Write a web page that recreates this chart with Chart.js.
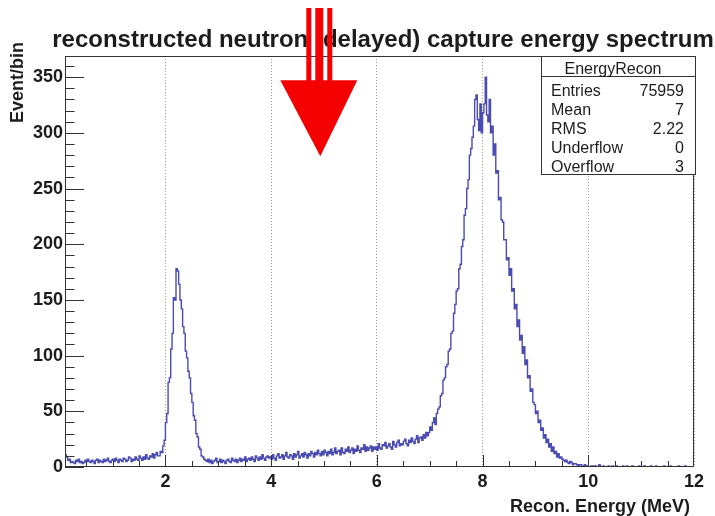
<!DOCTYPE html>
<html>
<head>
<meta charset="utf-8">
<script src="https://cdn.jsdelivr.net/npm/chart.js@4.4.1/dist/chart.umd.min.js"></script>
<style>
  html, body { margin: 0; background: #fff; }
  #wrap { width: 715px; height: 516px; }
</style>
</head>
<body>
<div id="wrap"><canvas id="spec"></canvas></div>
<script>
// histogram binning (MeV) and counts per bin
var binStart = 0.1, binWidth = 0.025;
var counts = [
  16, 11, 9, 6, 7, 4,
  5, 4, 3, 6, 5, 7, 4, 5, 3, 4, 6, 5, 7, 5, 4, 6, 5, 3, 6, 7, 4, 6, 5, 4, 7, 5, 6, 8, 5, 4, 6, 7, 5, 8, 6, 4, 7, 6, 5, 8,
  7, 5, 6, 9, 8, 5, 7, 6, 9, 7, 6, 10, 8, 6, 9, 7, 11, 8, 7, 10, 9, 12, 8, 11, 13, 10,
  10, 14, 13, 19,
  24, 40, 48, 76, 80, 106, 120, 152, 150, 178, 176, 164, 150, 142, 126, 120, 104, 98, 86, 80,
  66, 58, 46, 42, 30, 27, 18, 16, 10, 9, 7, 6,
  5, 7, 4, 6, 3, 5, 6, 8, 4, 5, 7, 4, 6, 5, 3, 6, 7, 5, 4, 8, 6, 5, 7, 4, 6, 8, 5, 7, 6, 9, 5, 7,
  8, 6, 9, 7, 5, 10, 8, 6, 9, 7, 11, 8, 6, 9, 10, 8,
  9, 7, 11, 8, 6, 10, 12, 8, 9, 11, 7, 10, 13, 9, 8, 11, 10, 7, 12, 9,
  11, 14, 8, 10, 12, 9, 13, 11, 8, 12, 10, 14, 12, 9, 13, 11, 15, 12, 10, 14,
  11, 15, 13, 10, 14, 12, 16, 11, 13, 17, 12, 14, 15, 11, 17, 13, 12, 16, 14, 18,
  13, 15, 17, 12, 16, 14, 19, 15, 13, 17, 16, 20, 14, 18, 15, 17, 19, 14, 18, 16,
  18, 15, 21, 17, 16, 20, 19, 22, 17, 19, 21, 18, 16, 23, 20, 18, 22, 24, 19, 21,
  20, 23, 25, 21, 19, 24, 22, 26, 23, 21, 25, 28, 22, 26, 27, 24, 29, 26, 31, 28,
  31, 36, 33, 40, 44, 38, 48, 52, 54, 64, 66, 78, 80, 90, 92, 104, 106, 120, 122, 138,
  146, 158, 160, 178, 182, 198, 204, 226, 232, 250, 258, 280, 286, 296, 306, 330, 334, 312, 302, 326,
  300, 318, 326, 350, 316, 310, 330, 300, 306, 280, 290, 264, 266, 240, 242, 222, 220, 204, 204, 186,
  188, 172, 178, 158, 160, 142, 146, 126, 132, 114, 118, 102, 108, 92, 96, 80, 82, 68, 70, 58,
  56, 48, 50, 40, 42, 33, 35, 26, 29, 22, 25, 18, 21, 14, 18, 12, 14, 9, 12, 8,
  9, 7, 6, 5, 6, 4, 3, 5, 4, 2, 3, 3, 2, 1, 2, 2, 1, 1, 2, 0,
  1, 0, 0, 1, 0, 1, 1, 0, 0, 2, 0, 0, 1, 0, 0, 0, 1, 0, 0, 1,
  0, 0, 1, 0, 0, 0, 0, 1, 0, 0, 1, 0, 0, 0, 1, 0, 0, 0, 0, 1,
  0, 0, 0, 1, 0, 0, 0, 0, 1, 0, 0, 0, 1, 0, 0, 0, 0, 0, 1, 0,
  0, 0, 0, 1, 0, 0, 0, 0, 0, 1, 0, 0, 0, 0, 1, 0, 0, 0, 0, 0
];
var xTickLabels = [2, 4, 6, 8, 10, 12];
var yTickLabels = [0, 50, 100, 150, 200, 250, 300, 350];
var statNames  = ['Entries', 'Mean', 'RMS', 'Underflow', 'Overflow'];
var statValues = ['75959', '7', '2.22', '0', '3'];
var histName = 'EnergyRecon';
var titleText = 'reconstructed neutron (delayed) capture energy spectrum';
var xTitle = 'Recon. Energy (MeV)', yTitle = 'Event/bin';
var arrowAt = { x: 4.93, y: 279 };   // where the red arrow points, in data units

var FONT = "'Liberation Sans', Arial, Helvetica, sans-serif";
var ink = '#1c1c1c', frameCol = '#333', lineCol = 'rgb(74,76,178)';

var pts = counts.map(function (c, i) { return { x: binStart + i * binWidth, y: c }; });
pts.push({ x: binStart + counts.length * binWidth, y: counts[counts.length - 1] });

// ROOT-ish frame: inward ticks, titles, stats box, and the red arrow on top
var rootFrame = {
  id: 'rootFrame',
  afterDraw: function (chart) {
    var ctx = chart.ctx, a = chart.chartArea, sx = chart.scales.x, sy = chart.scales.y;
    ctx.save();

    ctx.strokeStyle = frameCol; ctx.lineWidth = 1;
    ctx.strokeRect(Math.round(a.left) + 0.5, Math.round(a.top) + 0.5,
                   Math.round(a.right - a.left) - 1, Math.round(a.bottom - a.top) - 1);

    ctx.beginPath();
    var v, p;
    for (v = 0; v <= 360; v += 10) {
      p = Math.round(sy.getPixelForValue(v)) + 0.5;
      ctx.moveTo(a.left, p); ctx.lineTo(a.left + (v % 50 === 0 ? 19 : 9.5), p);
    }
    for (v = 0.5; v < 12; v += 0.5) {
      p = Math.round(sx.getPixelForValue(v)) + 0.5;
      ctx.moveTo(p, a.bottom); ctx.lineTo(p, a.bottom - (v % 2 === 0 ? 12 : 6));
    }
    ctx.stroke();

    ctx.fillStyle = ink;
    ctx.font = 'bold 24px ' + FONT;
    ctx.textAlign = 'center'; ctx.textBaseline = 'middle';
    ctx.fillText(titleText, 383, 40);

    ctx.font = 'bold 18px ' + FONT;
    ctx.textAlign = 'right';
    ctx.fillText(xTitle, 690, 507);

    ctx.save();
    ctx.translate(18, 42); ctx.rotate(-Math.PI / 2);
    ctx.font = 'bold 18px ' + FONT;
    ctx.textAlign = 'right';
    ctx.fillText(yTitle, 0, 0);
    ctx.restore();

    // stats box
    var bx = 541.5, by = 56.5, bw = 154, bh = 118;
    ctx.fillStyle = '#fff';
    ctx.fillRect(bx, by, bw, bh);
    ctx.strokeStyle = frameCol;
    ctx.strokeRect(bx, by, bw, bh);
    ctx.beginPath(); ctx.moveTo(bx, 76.5); ctx.lineTo(bx + bw, 76.5); ctx.stroke();
    ctx.fillStyle = ink;
    ctx.font = '16px ' + FONT;
    ctx.textAlign = 'center';
    ctx.fillText(histName, 613, 70);
    statNames.forEach(function (n, i) {
      var y = 92 + i * 19;
      ctx.textAlign = 'left'; ctx.fillText(n, 551, y);
      ctx.textAlign = 'right'; ctx.fillText(statValues[i], 684, y);
    });

    // red arrow
    var cx = sx.getPixelForValue(arrowAt.x), tip = sy.getPixelForValue(arrowAt.y);
    var headTop = tip - 76;
    ctx.fillStyle = '#f40000';
    ctx.fillRect(cx - 14, 8, 5, headTop - 8 + 1);
    ctx.fillRect(cx - 5, 8, 8, headTop - 8 + 1);
    ctx.fillRect(cx + 7, 8, 5, headTop - 8 + 1);
    ctx.beginPath();
    ctx.moveTo(cx - 40, headTop); ctx.lineTo(cx + 37, headTop); ctx.lineTo(cx, tip);
    ctx.closePath(); ctx.fill();

    ctx.restore();
  }
};

new Chart(document.getElementById('spec'), {
  type: 'line',
  data: {
    datasets: [{
      data: pts,
      stepped: 'after',
      borderColor: lineCol,
      borderWidth: 1.4,
      pointRadius: 0,
      fill: false
    }]
  },
  options: {
    responsive: true,
    maintainAspectRatio: false,
    animation: false,
    events: [],
    layout: { padding: { top: 56, right: 21, left: 0, bottom: 0 } },
    plugins: { legend: { display: false }, tooltip: { enabled: false } },
    scales: {
      x: {
        type: 'linear', min: binStart, max: 12,
        afterBuildTicks: function (s) { s.ticks = xTickLabels.map(function (v) { return { value: v }; }); },
        afterFit: function (s) { s.height = 49; },
        grid: { color: '#9a9a9a', lineWidth: 1, drawTicks: false },
        border: { display: false, dash: [1, 2] },
        ticks: { color: ink, font: { family: FONT, size: 18, weight: 'bold' }, padding: 4, maxRotation: 0, autoSkip: false }
      },
      y: {
        type: 'linear', min: 0, max: 369,
        afterBuildTicks: function (s) { s.ticks = yTickLabels.map(function (v) { return { value: v }; }); },
        afterFit: function (s) { s.width = 65; },
        grid: { display: false, drawTicks: false },
        border: { display: false },
        ticks: { color: ink, font: { family: FONT, size: 18, weight: 'bold' }, padding: 2 }
      }
    }
  },
  plugins: [rootFrame]
});
</script>
</body>
</html>
